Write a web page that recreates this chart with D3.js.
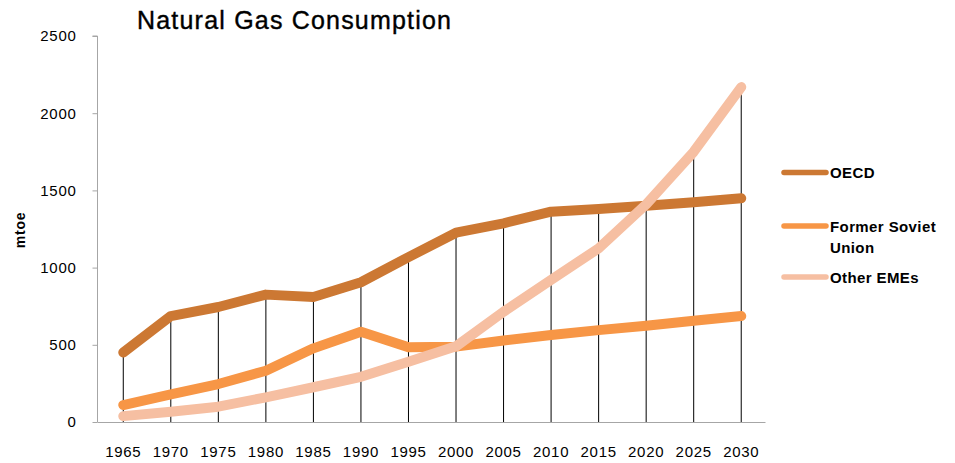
<!DOCTYPE html>
<html><head><meta charset="utf-8">
<script src="https://cdn.jsdelivr.net/npm/d3@7"></script>
<style>body{margin:0;background:#fff}svg{display:block}text{font-family:"Liberation Sans",Arial,sans-serif}</style>
</head><body><svg id="c" width="955" height="463"></svg>
<script>
const years = ["1965","1970","1975","1980","1985","1990","1995","2000","2005","2010","2015","2020","2025","2030"];
const oecd = [450,686,745,825,810,905,1068,1226,1287,1362,1380,1400,1423,1449];
const fsu = [110,179,246,332,477,585,484,488,528,563,595,624,656,686];
const otherEMEs = [38,67,99,160,225,293,390,490,714,920,1125,1410,1750,2169];
const yTicks = [0,500,1000,1500,2000,2500];
const seriesNames = ["OECD","Former Soviet Union","Other EMEs"];
const colors = ["#CC7833","#F79646","#F6BFA2"];

const svg = d3.select("#c");
const x = d3.scaleBand().domain(years).range([99.5,765]).padding(0);
const y = d3.scaleLinear().domain([0,2500]).range([422,36]);

// drop lines
const maxVals = years.map((d,i)=>Math.max(oecd[i],fsu[i],otherEMEs[i]));
svg.append("g").selectAll("line").data(years).join("line")
  .attr("x1",d=>x(d)+x.bandwidth()/2).attr("x2",d=>x(d)+x.bandwidth()/2)
  .attr("y1",(d,i)=>y(maxVals[i])).attr("y2",y(0))
  .attr("stroke","#000").attr("stroke-width",1);

// axes
const ya = svg.append("g").attr("transform","translate(97.5,0)")
  .call(d3.axisLeft(y).tickValues(yTicks).tickSize(5).tickPadding(16).tickFormat(d3.format("d")));
ya.select(".domain").attr("stroke","#a6a6a6").attr("d","M-5,"+y(2500)+"H0V"+y(0));
ya.selectAll(".tick line").attr("stroke","#a6a6a6");
ya.selectAll("text").attr("font-size","15px").attr("letter-spacing","0.7px").attr("fill","#000").attr("font-family","Liberation Sans, Arial");

const xa = svg.append("g").attr("transform","translate(0,422.5)")
  .call(d3.axisBottom(x).tickSize(0).tickPadding(24));
xa.select(".domain").attr("stroke","#a6a6a6").attr("d","M97.5,0H765.5");
xa.selectAll("text").attr("font-size","15px").attr("letter-spacing","0.7px").attr("fill","#000").attr("font-family","Liberation Sans, Arial");

// lines
const line = d3.line().x((d,i)=>x(years[i])+x.bandwidth()/2).y(d=>y(d));
const all = [oecd,fsu,otherEMEs];
svg.append("g").selectAll("path").data([0,1,2]).join("path")
  .attr("d",k=>line(all[k])).attr("fill","none")
  .attr("stroke",k=>colors[k]).attr("stroke-width",10)
  .attr("stroke-linecap","round").attr("stroke-linejoin","round");

// title
svg.append("text").attr("x",137).attr("y",29).attr("font-size","25px")
  .attr("textLength",314).attr("lengthAdjust","spacing").attr("stroke","#000").attr("stroke-width",0.4)
  .attr("fill","#000").text("Natural Gas Consumption");
// y label
svg.append("text").attr("transform","translate(25,230) rotate(-90)").attr("text-anchor","middle")
  .attr("font-size","14px").attr("font-weight","bold").attr("letter-spacing","0.8px").attr("fill","#000").text("mtoe");

// legend
const leg = [{y:172.5,lines:["OECD"]},{y:226,lines:["Former Soviet","Union"]},{y:277,lines:["Other EMEs"]}];
const lg = svg.append("g");
leg.forEach((l,i)=>{
  lg.append("line").attr("x1",784).attr("x2",826).attr("y1",l.y).attr("y2",l.y)
    .attr("stroke",colors[i]).attr("stroke-width",5.5).attr("stroke-linecap","round");
  const t = lg.append("text").attr("x",830).attr("y",l.y+5.5).attr("font-size","15px").attr("font-weight","bold").attr("letter-spacing","0.4px").attr("fill","#000");
  l.lines.forEach((s,j)=>t.append("tspan").attr("x",830).attr("dy",j?21:0).text(s));
});
</script></body></html>
